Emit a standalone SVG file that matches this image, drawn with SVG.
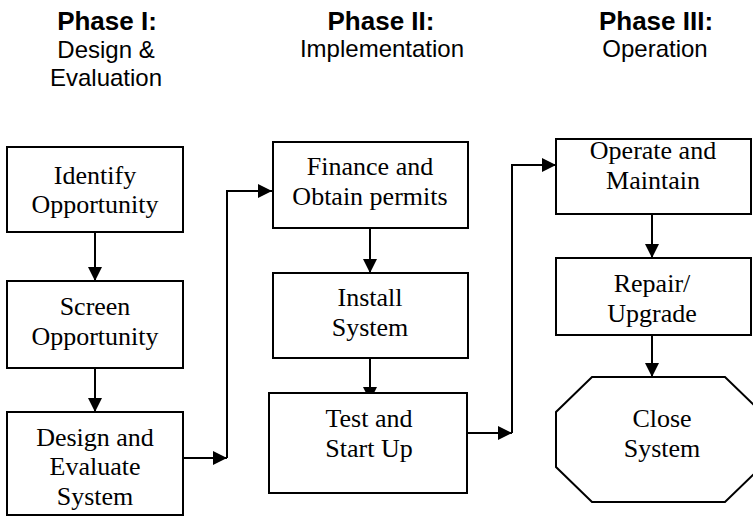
<svg xmlns="http://www.w3.org/2000/svg" width="753" height="525" viewBox="0 0 753 525">
  <defs>
    <marker id="arrow" viewBox="0 0 10 10" refX="10" refY="5" markerWidth="14" markerHeight="14" markerUnits="userSpaceOnUse" orient="auto">
      <path d="M0,0 L10,5 L0,10 Z" fill="#000"/>
    </marker>
    <style>
      .box { fill: #fff; stroke: #000; stroke-width: 2; }
      .lbl { font-family: "Liberation Serif", "Times New Roman", serif; font-size: 26px; fill: #000; text-anchor: middle; }
      .phase { font-family: "Liberation Sans", Arial, sans-serif; font-size: 26px; font-weight: bold; fill: #000; text-anchor: middle; }
      .sub { font-family: "Liberation Sans", Arial, sans-serif; font-size: 24px; fill: #000; text-anchor: middle; }
      .conn path { fill: none; stroke: #000; stroke-width: 2; }
      .conn path.arr { marker-end: url(#arrow); }
    </style>
  </defs>
  <rect width="753" height="525" fill="#fff"/>

  <!-- phase headings -->
  <g id="phase1">
    <text class="phase" x="107" y="30">Phase I:</text>
    <text class="sub" x="106" y="58">Design &amp;</text>
    <text class="sub" x="106" y="86">Evaluation</text>
  </g>
  <g id="phase2">
    <text class="phase" x="381" y="30">Phase II:</text>
    <text class="sub" x="382" y="57">Implementation</text>
  </g>
  <g id="phase3">
    <text class="phase" x="656" y="30">Phase III:</text>
    <text class="sub" x="655" y="57">Operation</text>
  </g>

  <!-- connectors -->
  <g id="connectors" class="conn">
    <path class="arr" d="M95,232 V281"/>
    <path class="arr" d="M95,368 V412"/>
    <path class="arr" d="M183,458 H227"/>
    <path class="arr" d="M227,458 V191 H272"/>
    <path class="arr" d="M370,228 V273"/>
    <path class="arr" d="M370,358 V401"/>
    <path class="arr" d="M467,433 H512"/>
    <path class="arr" d="M512,433 V165 H556"/>
    <path class="arr" d="M652,214 V258"/>
    <path class="arr" d="M652,335 V377"/>
  </g>

  <!-- phase I nodes -->
  <g id="identify">
    <rect class="box" x="7" y="147" width="176" height="85"/>
    <text class="lbl" x="95" y="184">Identify</text>
    <text class="lbl" x="95" y="213">Opportunity</text>
  </g>
  <g id="screen">
    <rect class="box" x="7" y="281" width="176" height="87"/>
    <text class="lbl" x="95" y="315">Screen</text>
    <text class="lbl" x="95" y="345">Opportunity</text>
  </g>
  <g id="design">
    <rect class="box" x="7" y="412" width="176" height="103"/>
    <text class="lbl" x="95" y="446">Design and</text>
    <text class="lbl" x="95" y="475">Evaluate</text>
    <text class="lbl" x="95" y="505">System</text>
  </g>

  <!-- phase II nodes -->
  <g id="finance">
    <rect class="box" x="273" y="142" width="195" height="86"/>
    <text class="lbl" x="370" y="175">Finance and</text>
    <text class="lbl" x="370" y="205">Obtain permits</text>
  </g>
  <g id="install">
    <rect class="box" x="273" y="273" width="195" height="85"/>
    <text class="lbl" x="370" y="306">Install</text>
    <text class="lbl" x="370" y="336">System</text>
  </g>
  <g id="test">
    <rect class="box" x="269" y="393" width="198" height="100"/>
    <text class="lbl" x="369" y="427">Test and</text>
    <text class="lbl" x="369" y="457">Start Up</text>
  </g>

  <!-- phase III nodes -->
  <g id="operate">
    <rect class="box" x="556" y="139" width="195" height="75"/>
    <text class="lbl" x="653" y="159">Operate and</text>
    <text class="lbl" x="653" y="189">Maintain</text>
  </g>
  <g id="repair">
    <rect class="box" x="556" y="258" width="195" height="77"/>
    <text class="lbl" x="652" y="292">Repair/</text>
    <text class="lbl" x="652" y="322">Upgrade</text>
  </g>
  <g id="close">
    <polygon class="box" points="592,377 725,377 761,412 761,467 725,502 592,502 556,467 556,412"/>
    <text class="lbl" x="662" y="427">Close</text>
    <text class="lbl" x="662" y="457">System</text>
  </g>
</svg>
